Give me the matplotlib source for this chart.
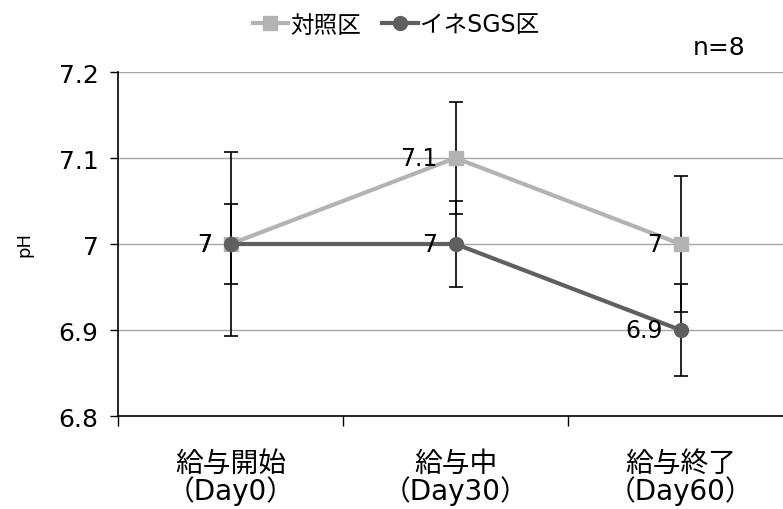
import numpy as np
import matplotlib.pyplot as plt

plt.rcParams['font.family'] = ['DejaVu Sans', 'Noto Sans CJK JP']

categories = ['給与開始\n（Day0）', '給与中\n（Day30）', '給与終了\n（Day60）']
control = [7.0, 7.1, 7.0]
control_sd = [0.107, 0.065, 0.079]
sgs = [7.0, 7.0, 6.9]
sgs_sd = [0.047, 0.05, 0.053]
series_names = ['対照区', 'イネSGS区']
yticks = [6.8, 6.9, 7.0, 7.1, 7.2]
ytick_labels = ['6.8', '6.9', '7', '7.1', '7.2']

fig = plt.figure(figsize=(7.83, 5.10), dpi=100)
ax = fig.add_axes([118 / 783, 93 / 510, 675 / 783, 344 / 510])

x = np.arange(len(categories))
c_col = '#b3b3b3'
s_col = '#5f5f5f'

# error bars first, lines on top
ax.errorbar(x, control, yerr=control_sd, fmt='none', ecolor='black',
            elinewidth=1.2, capsize=5, capthick=1.2, zorder=3)
ax.errorbar(x, sgs, yerr=sgs_sd, fmt='none', ecolor='black',
            elinewidth=1.2, capsize=5, capthick=1.2, zorder=3)
ax.plot(x, control, color=c_col, lw=3, marker='s', ms=10,
        label=series_names[0], zorder=4)
ax.plot(x, sgs, color=s_col, lw=3, marker='o', ms=10,
        label=series_names[1], zorder=5)

# data labels, to the left of each point
for xi, v in zip(x, control):
    ax.text(xi - 0.08, v, f'{v:g}', ha='right', va='center', fontsize=17, zorder=6)
for xi, v in zip(x, sgs):
    ax.text(xi - 0.08, v, f'{v:g}', ha='right', va='center', fontsize=17, zorder=6)

ax.set_xlim(-0.5, 2.5)
ax.set_ylim(6.8, 7.2)
ax.set_yticks(yticks)
ax.set_yticklabels(ytick_labels, fontsize=18)
ax.set_xticks(x)
ax.set_xticklabels(categories, fontsize=20, linespacing=0.9)
ax.tick_params(axis='x', length=0, pad=24)
ax.set_xticks([-0.5, 0.5, 1.5, 2.5], minor=True)
ax.tick_params(axis='x', which='minor', length=7, width=1)
ax.tick_params(axis='y', length=6, width=1, pad=8)
ax.yaxis.grid(True, color='#a6a6a6', lw=1)
ax.set_axisbelow(True)
for s in ['top', 'right']:
    ax.spines[s].set_visible(False)
ax.spines['left'].set_linewidth(1.2)
ax.spines['bottom'].set_linewidth(1.2)
ax.set_ylabel('pH', fontsize=13, labelpad=18)

fig.legend(loc='center', bbox_to_anchor=(396 / 783, 0.95), ncol=2, frameon=False,
           fontsize=17, handlelength=1.5, handletextpad=0.1, columnspacing=0.9,
           borderpad=0)
fig.text(0.952, 0.905, 'n=8', fontsize=18, ha='right', va='center')

fig.savefig('out.png', dpi=100)
